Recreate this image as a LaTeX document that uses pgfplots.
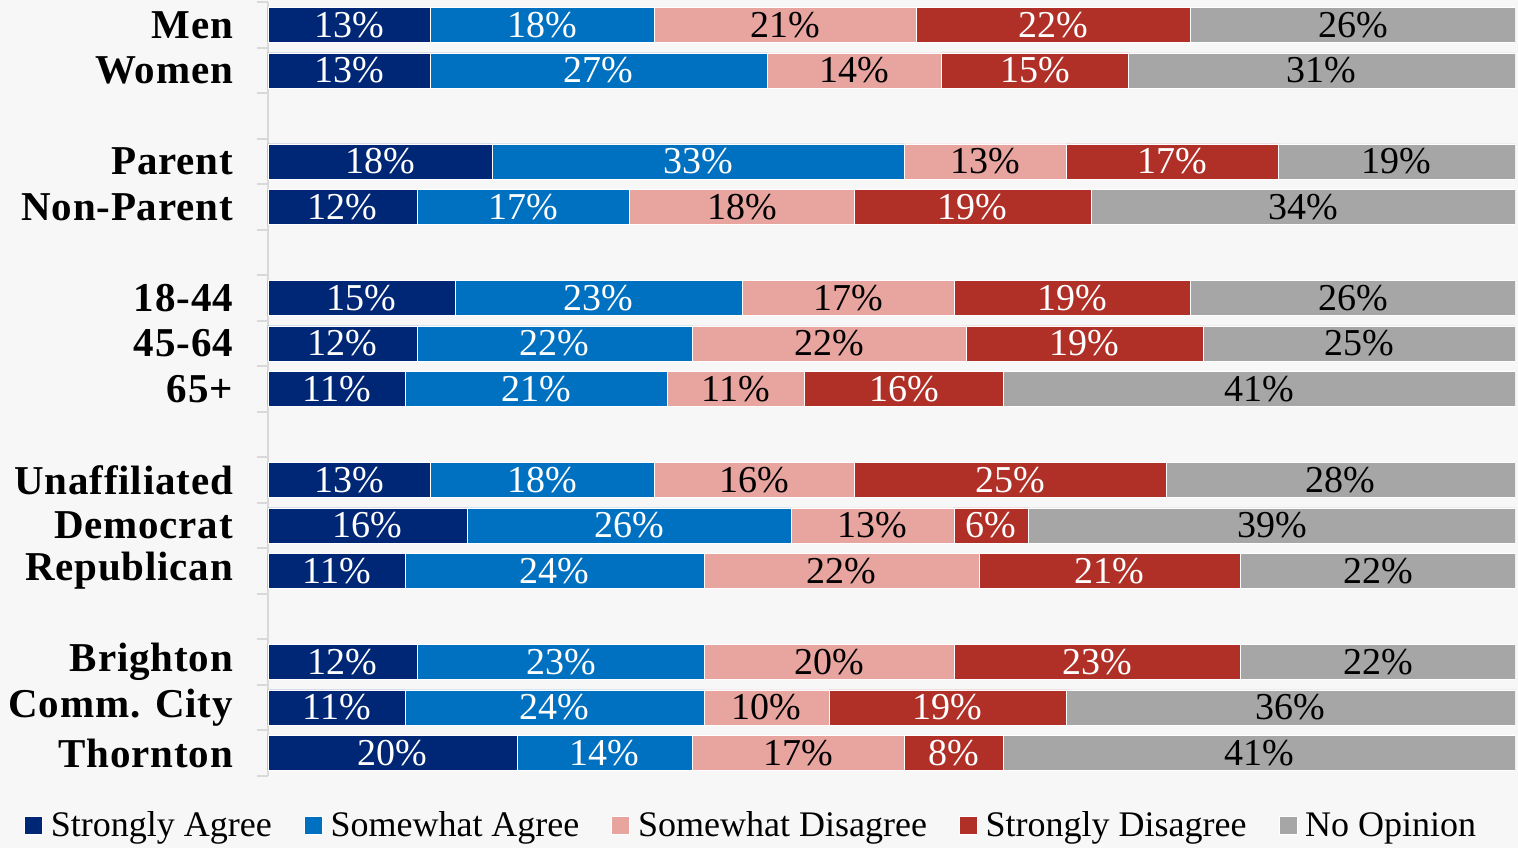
\documentclass[border=0pt]{standalone}
\usepackage{fontspec}
\setmainfont{Liberation Serif}
\newfontfamily\catfont[LetterSpace=2]{Liberation Serif}
\usepackage{pgfplots}
\usepackage{pgfplotstable}
\usetikzlibrary{backgrounds}
\pgfplotsset{compat=1.18}
\definecolor{cSA}{RGB}{0,38,118}
\definecolor{cSWA}{RGB}{0,112,192}
\definecolor{cSWD}{RGB}{232,165,160}
\definecolor{cSD}{RGB}{176,48,40}
\definecolor{cNO}{RGB}{166,166,166}
\definecolor{bg}{RGB}{247,247,247}
\definecolor{axgray}{RGB}{217,217,217}
\pgfplotstableread{
pos sa swa swd sd no
0 13 18 21 22 26
1 13 27 14 15 31
3 18 33 13 17 19
4 12 17 18 19 34
6 15 23 17 19 26
7 12 22 22 19 25
8 11 21 11 16 41
10 13 18 16 25 28
11 16 26 13 6 39
12 11 24 22 21 22
14 12 23 20 23 22
15 11 24 10 19 36
16 20 14 17 8 41
}\data
\begin{document}
\begin{tikzpicture}
\begin{axis}[
  scale only axis, width=623.5pt, height=386.75pt,
  xbar stacked, bar width=0.77,
  xmin=0, xmax=100, ymin=-0.5, ymax=16.5, y dir=reverse,
  axis x line=none, axis y line=left,
  axis line style={draw=axgray, line width=1pt, -},
  ytick={0,1,3,4,6,7,8,10,11,12,14,15,16},
  yticklabels={Men,Women,Parent,Non-Parent,18-44,45-64,65+,Unaffiliated,Democrat,Republican,Brighton,Comm. City,Thornton},
  minor ytick={-0.5,0.5,...,16.5},
  major tick length=0pt, minor tick length=5.5pt, tick align=outside,
  minor tick style={draw=axgray, line width=1pt},
  y tick label style={font=\catfont\fontsize{20.5}{20.5}\selectfont\bfseries, xshift=-14pt},
  point meta=rawx,
  nodes near coords={\pgfmathprintnumber{\pgfplotspointmeta}\%},
  /pgf/number format/assume math mode=true,
  every node near coord/.append style={font=\fontsize{19}{19}\selectfont},
  legend style={at={(-0.2005,-0.0646)}, anchor=west, legend columns=5, draw=none, fill=none,
    font=\fontsize{18}{18}\selectfont,
    /tikz/every odd column/.append style={column sep=2pt},
    /tikz/every even column/.append style={column sep=14pt}},
  legend image code/.code={\fill[#1] (0pt,-4.5pt) rectangle (9pt,4.5pt);},
]
\addplot[fill=cSA, draw=white, line width=0.3pt, every node near coord/.append style={text=white}] table[x=sa,y=pos]{\data};
\addplot[fill=cSWA, draw=white, line width=0.3pt, every node near coord/.append style={text=white}] table[x=swa,y=pos]{\data};
\addplot[fill=cSWD, draw=white, line width=0.3pt, every node near coord/.append style={text=black}] table[x=swd,y=pos]{\data};
\addplot[fill=cSD, draw=white, line width=0.3pt, every node near coord/.append style={text=white}] table[x=sd,y=pos]{\data};
\addplot[fill=cNO, draw=white, line width=0.3pt, every node near coord/.append style={text=black}] table[x=no,y=pos]{\data};
\legend{Strongly Agree, Somewhat Agree, Somewhat Disagree, Strongly Disagree, No Opinion}
\end{axis}
\begin{pgfonlayer}{background}
\fill[bg] ([shift={(-134pt,-36.125pt)}]current axis.south west) rectangle ([shift={(1.5pt,1.125pt)}]current axis.north east);
\end{pgfonlayer}
\path[use as bounding box] ([shift={(-134pt,-36.125pt)}]current axis.south west) rectangle ([shift={(1.5pt,1.125pt)}]current axis.north east);
\end{tikzpicture}
\end{document}
